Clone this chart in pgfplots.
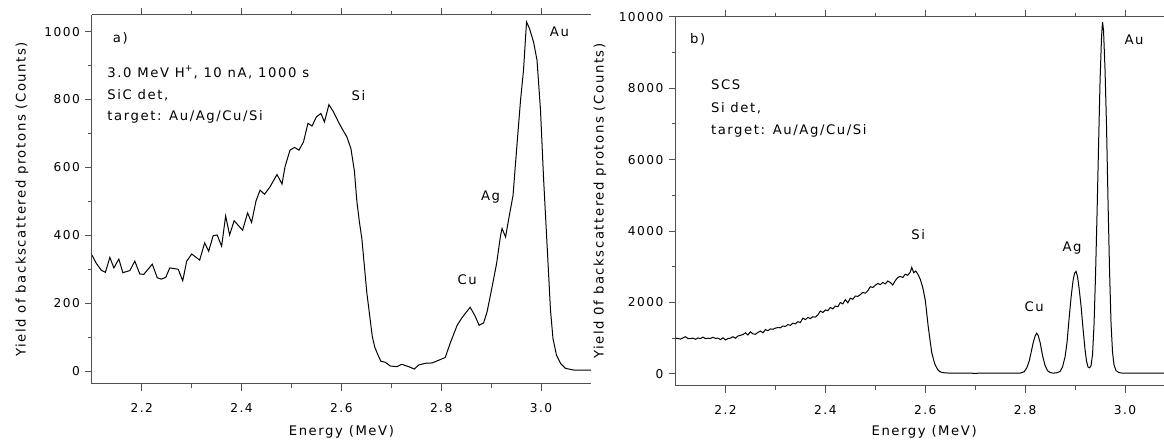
\documentclass[border=0pt]{standalone}
\usepackage{fontspec}
\setmainfont{DejaVu Sans}[LetterSpace=12]
\usepackage{pgfplots}
\pgfplotsset{compat=1.18}
\newcommand\cf{\fontsize{6.6}{7.8}\selectfont}
\newcommand\tf{\fontsize{6.1}{7.2}\selectfont}
\definecolor{ax}{RGB}{80,80,80}

\pgfplotsset{
  spec/.style={
    scale only axis,
    anchor=south west,
    font=\cf,
    axis x line*=box, axis y line*=left,
    axis line style={ax, line width=0.5pt},
    every tick/.style={ax, line width=0.5pt},
    tick align=outside,
    xtick pos=both, ytick pos=left,
    major tick length=3.5pt, minor tick length=2pt,
    xmin=2.1,
    xtick={2.2,2.4,2.6,2.8,3.0},
    minor x tick num=1,
    minor y tick num=1,
    scaled y ticks=false,
    /pgf/number format/assume math mode=true,
    /pgf/number format/set thousands separator={},
    xticklabel style={font=\tf, anchor=north, yshift=-2.8pt,
      /pgf/number format/fixed, /pgf/number format/fixed zerofill,
      /pgf/number format/precision=1},
    yticklabel style={font=\tf, anchor=east, xshift=1pt},
    every axis x label/.style={font=\cf, anchor=center},
    every axis y label/.style={font=\cf, anchor=center, rotate=90},
    xlabel={Energy (MeV)},
    every node/.append style={font=\cf},
  },
}

\begin{document}
\begin{tikzpicture}
\begin{axis}[spec,
  at={(45.95pt,29pt)},
  width=249.5pt, height=184.65pt,
  xmax=3.1,
  ymin=-38, ymax=1050,
  ytick={0,200,400,600,800,1000},
  ylabel={Yield of backscattered protons (Counts)},
  xlabel style={at={(axis description cs:0.5,-0.13)}},
  ylabel style={at={(axis description cs:-0.14,0.5)}},
]
\addplot[black, line width=0.5pt] coordinates {
(2.100,342) (2.109,317) (2.119,297) (2.127,291) (2.136,335) (2.144,304)
(2.154,330) (2.162,290) (2.176,296) (2.186,324) (2.196,286) (2.204,285)
(2.221,315) (2.231,275) (2.239,271) (2.248,276) (2.256,304) (2.273,300)
(2.282,266) (2.290,324) (2.300,345) (2.316,327) (2.326,378) (2.334,353)
(2.343,399) (2.351,401) (2.360,368) (2.368,457) (2.376,401) (2.385,443)
(2.402,415) (2.412,466) (2.420,438) (2.429,502) (2.437,533) (2.446,521)
(2.457,543) (2.471,579) (2.481,551) (2.487,602) (2.497,651) (2.506,659)
(2.515,651) (2.524,675) (2.533,730) (2.541,722) (2.550,749) (2.559,759)
(2.566,734) (2.575,785) (2.584,764) (2.594,734) (2.603,710) (2.611,690)
(2.619,656) (2.626,590) (2.631,500) (2.636,440) (2.641,390) (2.646,310)
(2.651,230) (2.657,160) (2.662,101) (2.667,70) (2.672,52) (2.679,29)
(2.688,26) (2.698,15) (2.711,13) (2.721,20) (2.735,13) (2.746,6)
(2.755,18) (2.768,23) (2.782,24) (2.795,32) (2.808,40) (2.818,82)
(2.832,135) (2.842,158) (2.858,188) (2.867,165) (2.876,135) (2.885,142)
(2.892,175) (2.902,248) (2.911,317) (2.919,400) (2.922,420) (2.929,395)
(2.936,454) (2.944,518) (2.951,651) (2.959,798) (2.965,887) (2.971,1029)
(2.977,1009) (2.985,970) (2.992,916) (2.999,769) (3.005,572) (3.012,376)
(3.019,180) (3.024,96) (3.031,47) (3.039,23) (3.049,8) (3.066,3) (3.100,3)
};
\node[anchor=west] at (axis cs:2.128,979) {a)};
\node[anchor=west] at (axis cs:2.117,880) {3.0 MeV H\textsuperscript{+}, 10 nA, 1000 s};
\node[anchor=west] at (axis cs:2.117,813) {SiC det,};
\node[anchor=west] at (axis cs:2.117,748) {target: Au/Ag/Cu/Si};
\node at (axis cs:2.634,813) {Si};
\node at (axis cs:3.037,1001) {Au};
\node at (axis cs:2.899,512) {Ag};
\node at (axis cs:2.852,268) {Cu};
\end{axis}

\begin{axis}[spec,
  at={(337.75pt,28.15pt)},
  width=244.25pt, height=184.5pt,
  xmax=3.078,
  ymin=-330, ymax=10000,
  ytick={0,2000,4000,6000,8000,10000},
  ylabel={Yield 0f backscattered protons (Counts)},
  xlabel style={at={(axis description cs:0.509,-0.1255)}},
  ylabel style={at={(axis description cs:-0.1546,0.5)}},
]
\addplot[black, line width=0.5pt] coordinates {
(2.100,1000) (2.105,990) (2.110,975) (2.115,1010) (2.120,1040) (2.125,985)
(2.130,990) (2.135,1000) (2.140,970) (2.145,1005) (2.150,990) (2.155,1030)
(2.160,985) (2.165,1000) (2.170,990) (2.175,1025) (2.180,995) (2.185,1000)
(2.190,960) (2.195,1010) (2.200,950) (2.205,990) (2.210,1000) (2.215,1040)
(2.220,1000) (2.225,1060) (2.230,1080) (2.235,1100) (2.240,1150) (2.245,1090)
(2.250,1180) (2.255,1120) (2.260,1110) (2.265,1160) (2.270,1200) (2.275,1150)
(2.280,1240) (2.285,1210) (2.290,1260) (2.295,1250) (2.300,1280) (2.305,1300)
(2.310,1290) (2.315,1340) (2.320,1330) (2.325,1380) (2.330,1360) (2.335,1420)
(2.340,1400) (2.345,1460) (2.350,1440) (2.355,1560) (2.360,1520) (2.365,1580)
(2.370,1550) (2.375,1600) (2.380,1590) (2.385,1650) (2.390,1760) (2.395,1720)
(2.400,1790) (2.405,1770) (2.410,1860) (2.415,1820) (2.420,1900) (2.425,1880)
(2.430,2000) (2.435,1960) (2.440,2080) (2.445,1990) (2.450,2120) (2.455,2090)
(2.460,2180) (2.465,2170) (2.470,2220) (2.475,2280) (2.480,2260) (2.485,2330)
(2.490,2440) (2.495,2420) (2.500,2480) (2.505,2530) (2.510,2500) (2.515,2560)
(2.520,2520) (2.525,2600) (2.530,2560) (2.535,2490) (2.540,2610) (2.545,2700)
(2.550,2730) (2.555,2700) (2.560,2790) (2.565,2760) (2.570,2850) (2.573,2980)
(2.577,2830) (2.581,2880) (2.585,2800) (2.590,2650) (2.595,2420) (2.600,2070)
(2.603,1700) (2.606,1320) (2.610,900) (2.613,600) (2.617,380) (2.620,250)
(2.625,120) (2.629,65) (2.635,35) (2.650,20) (2.700,18) (2.750,20)
(2.790,22) (2.798,60) (2.803,160) (2.808,350) (2.812,600) (2.816,870)
(2.820,1060) (2.823,1140) (2.826,1080) (2.830,880) (2.835,500) (2.840,230)
(2.845,90) (2.850,40) (2.856,22) (2.863,30) (2.870,70) (2.875,200)
(2.880,480) (2.884,900) (2.888,1550) (2.892,2150) (2.896,2620) (2.899,2820)
(2.902,2870) (2.905,2720) (2.908,2400) (2.912,1900) (2.916,1250) (2.920,670)
(2.923,350) (2.926,190) (2.929,170) (2.932,230) (2.935,550) (2.938,1400)
(2.941,2800) (2.944,4500) (2.947,6400) (2.950,8200) (2.953,9450) (2.955,9850)
(2.957,9600) (2.960,8500) (2.963,6900) (2.966,4800) (2.969,2900) (2.972,1400)
(2.975,600) (2.978,250) (2.982,90) (2.988,35) (2.995,22) (3.050,20) (3.078,22)
};
\node[anchor=west] at (axis cs:2.115,9358) {b)};
\node[anchor=west] at (axis cs:2.157,8100) {SCS};
\node[anchor=west] at (axis cs:2.157,7430) {Si det,};
\node[anchor=west] at (axis cs:2.157,6816) {target: Au/Ag/Cu/Si};
\node at (axis cs:2.586,3911) {Si};
\node at (axis cs:2.894,3520) {Ag};
\node at (axis cs:2.818,1872) {Cu};
\node at (axis cs:3.018,9358) {Au};
\end{axis}
\pgfresetboundingbox
\useasboundingbox (0,0) rectangle (582pt,221pt);
\end{tikzpicture}
\end{document}
